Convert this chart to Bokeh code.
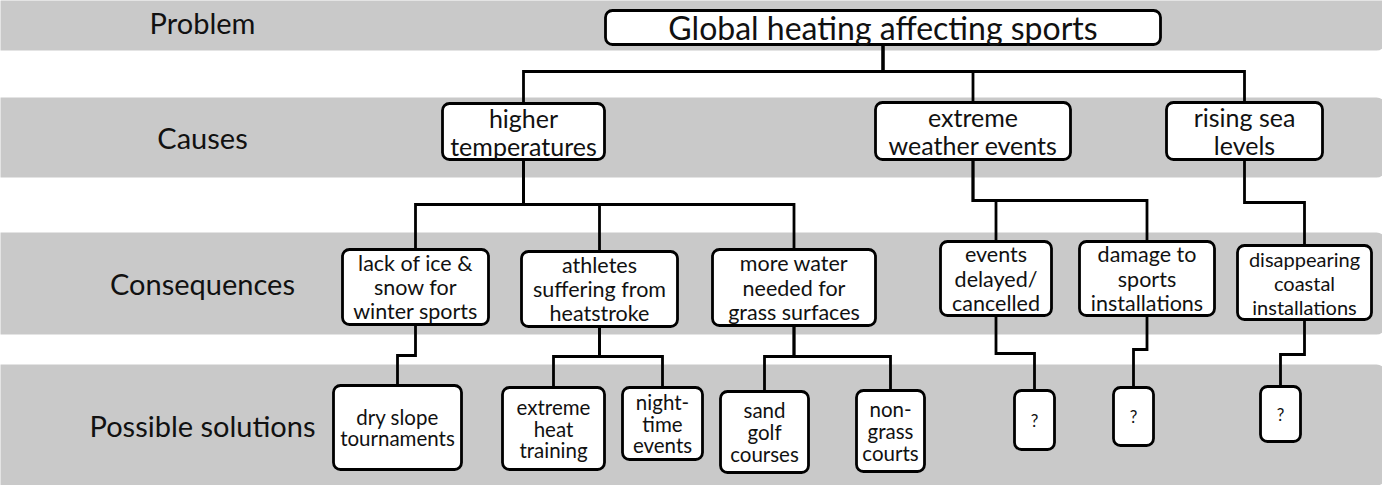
from bokeh.plotting import figure
from bokeh.models import Range1d, ColumnDataSource
from bokeh.core.properties import value
from bokeh.embed import file_html
from bokeh.resources import INLINE

# ---- content ----
row_labels = ["Problem", "Causes", "Consequences", "Possible solutions"]
problem_labels = ["Global heating affecting sports"]
cause_labels = ["higher\ntemperatures", "extreme\nweather events", "rising sea\nlevels"]
consequence_labels = ["lack of ice &\nsnow for\nwinter sports", "athletes\nsuffering from\nheatstroke",
                      "more water\nneeded for\ngrass surfaces", "events\ndelayed/\ncancelled",
                      "damage to\nsports\ninstallations", "disappearing\ncoastal\ninstallations"]
solution_labels = ["dry slope\ntournaments", "extreme\nheat\ntraining", "night-\ntime\nevents",
                   "sand\ngolf\ncourses", "non-\ngrass\ncourts", "?", "?", "?"]
# parent -> child links (indices into the combined node list)
link_parent = [0, 0, 0, 1, 1, 1, 2, 2, 3, 4, 5, 5, 6, 6, 7, 8, 9]
link_child = [1, 2, 3, 4, 5, 6, 7, 8, 9, 10, 11, 12, 13, 14, 15, 16, 17]

# ---- layout (page pixels) ----
band_top = [2, 105, 240, 372]
band_bottom = [58, 185, 342, 493]
row_label_x = [210, 210, 210, 210]
node_left = [613, 450, 883, 1174, 350, 529, 720, 948, 1087, 1245, 341, 510, 630, 728, 864, 1022, 1121, 1268]
node_right = [1168, 612, 1078, 1330, 496, 685, 883, 1059, 1222, 1379, 469, 612, 710, 816, 932, 1062, 1161, 1308]
node_top = [18, 111, 110, 110, 257, 259, 257, 249, 249, 253, 393, 395, 395, 399, 398, 398, 395, 394]
node_bottom = [52, 167, 167, 167, 332, 334, 333, 323, 323, 327, 477, 477, 467, 480, 479, 457, 453, 449]
node_font = [32, 25, 25, 25, 21.5, 21.5, 21.5, 21.5, 21.5, 20,
             20.5, 20.5, 20.5, 20.5, 20.5, 17, 17, 17]
node_line_h = [1.0, 1.12, 1.12, 1.12, 1.12, 1.12, 1.12, 1.12, 1.12, 1.2,
               1.07, 1.07, 1.07, 1.07, 1.07, 1.0, 1.0, 1.0]
link_mid_y = [79, 79, 79, 212, 212, 212, 208, 208, 210, 363, 364, 364, 364, 364, 361, 357, 362]

FONT = "Lato"
BAND = "#c9c9c9"
INK = "#111111"

node_labels = problem_labels + cause_labels + consequence_labels + solution_labels

p = figure(width=1382, height=485, output_backend="svg", toolbar_location=None,
           x_range=Range1d(8, 1390), y_range=Range1d(493, 8),
           x_axis_type=None, y_axis_type=None, min_border=0)
p.grid.visible = False
p.outline_line_color = None
p.background_fill_color = "white"
p.border_fill_color = "white"

# bands
p.quad(left=[0] * 4, right=[1393] * 4, top=band_top, bottom=band_bottom,
       fill_color=BAND, line_color=None, border_radius=9)

# row labels
p.text(x=row_label_x, y=[(t + b) / 2 for t, b in zip(band_top, band_bottom)], text=row_labels,
       text_font=value(FONT), text_font_size="29px", text_align="center",
       text_baseline="middle", text_color=INK)

# connectors
xs, ys = [], []
for pa, ch, ym in zip(link_parent, link_child, link_mid_y):
    px = (node_left[pa] + node_right[pa]) / 2
    cx = (node_left[ch] + node_right[ch]) / 2
    xs.append([px, px, cx, cx])
    ys.append([node_bottom[pa], ym, ym, node_top[ch]])
p.multi_line(xs=xs, ys=ys, line_color="black", line_width=2.8, line_join="miter")

# nodes
p.quad(left=node_left, right=node_right, top=node_top, bottom=node_bottom,
       fill_color="white", line_color="black", line_width=2.8, border_radius=7)

# node texts, one line at a time
lx, ly, lt, ls = [], [], [], []
for i, lab in enumerate(node_labels):
    lines = lab.split("\n")
    cx = (node_left[i] + node_right[i]) / 2
    cy = (node_top[i] + node_bottom[i]) / 2
    step = node_font[i] * node_line_h[i]
    for k, line in enumerate(lines):
        lx.append(cx)
        ly.append(cy + (k - (len(lines) - 1) / 2) * step)
        lt.append(line)
        ls.append(f"{node_font[i]}px")
src = ColumnDataSource(dict(x=lx, y=ly, text=lt, size=ls))
p.text(x="x", y="y", text="text", source=src, text_font=value(FONT), text_font_size="size",
       text_align="center", text_baseline="middle", text_color=INK)

open("out.html", "w").write(file_html(p, INLINE))
